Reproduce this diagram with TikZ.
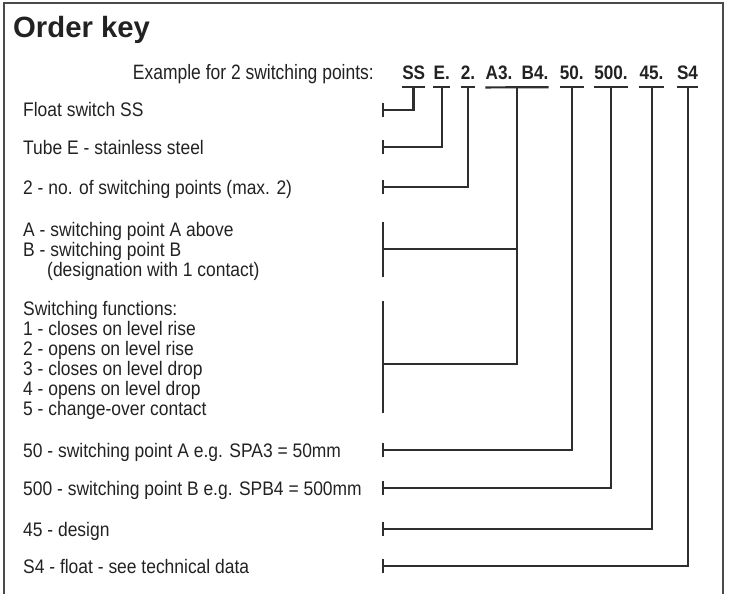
\documentclass[tikz,border=0pt]{standalone}
\usepackage{fontspec}
\setmainfont{Liberation Sans}
\newfontfamily\lblfont[FakeStretch=0.89]{Liberation Sans}
\newfontfamily\exfont[FakeStretch=0.84]{Liberation Sans}
\newfontfamily\codefont[FakeStretch=0.88]{Liberation Sans}
\definecolor{ink}{HTML}{222222}
\definecolor{wire}{HTML}{2E2E2E}
\definecolor{framec}{HTML}{4A4A4A}
\begin{document}
\begin{tikzpicture}[x=1pt,y=-1pt,
  lbl/.style={anchor=base west,inner sep=0pt,text=ink,font=\lblfont\fontsize{19.6}{22}\selectfont},
  code/.style={anchor=base,inner sep=0pt,text=ink,font=\codefont\fontsize{19.5}{22}\selectfont\bfseries},
  wireline/.style={draw=wire,line width=2.1pt,line join=miter},
  barline/.style={draw=wire,line width=2.2pt},
  tickline/.style={draw=wire,line width=2.1pt}]
\useasboundingbox (0,0) rectangle (731,594);
% frame
\draw[framec,line width=1.4pt] (4,594) -- (4,3) -- (723,3) -- (723,594);
% title
\node[anchor=base west,inner sep=0pt,text=ink,font=\fontsize{29.3}{33}\selectfont\bfseries] (title) at (13,37.5) {Order key};
% example line
\node[anchor=base east,inner sep=0pt,text=ink,font=\exfont\fontsize{20.8}{24}\selectfont] (ex) at (374,79.5) {Example for 2 switching points:};
\node[code] (cSS) at (413.7,79.5) {SS};
\node[code] (cE) at (441.8,79.5) {E.};
\node[code] (c2) at (468,79.5) {2.};
\node[code] (cA3) at (499,79.5) {A3.};
\node[code] (cB4) at (535,79.5) {B4.};
\node[code] (c50) at (571.7,79.5) {50.};
\node[code] (c500) at (611,79.5) {500.};
\node[code] (c45) at (651.5,79.5) {45.};
\node[code] (cS4) at (687.5,79.5) {S4};
% bars
\foreach \n in {cSS,cE,c2,c50,c500,c45,cS4}
  \draw[barline] ([yshift=-7.5pt]\n.south west) -- ([yshift=-7.5pt]\n.south east);
\draw[barline] ([yshift=-7.5pt]cA3.south west) -- ([yshift=-7.5pt]cB4.south east);
% bar stem points
\coordinate (bSS) at (413.5,87);
\coordinate (bE) at (442.3,87);
\coordinate (b2) at (467.7,87);
\coordinate (bAB) at (516.7,87);
\coordinate (b50) at (571.7,87);
\coordinate (b500) at (611,87);
\coordinate (b45) at (651.7,87);
\coordinate (bS4) at (687.7,87);
% left ends
\coordinate (tSS) at (383,110);
\coordinate (tE) at (383,147);
\coordinate (t2) at (383,187);
\coordinate (tA) at (383,249);
\coordinate (tF) at (383,364);
\coordinate (t50) at (383,450);
\coordinate (t500) at (383,488);
\coordinate (t45) at (383,529);
\coordinate (tS4) at (383,566);
% labels
\node[lbl] (lSS) at (23,117) {Float switch SS};
\node[lbl] (lE) at (23,154) {Tube E - stainless steel};
\node[lbl] (l2) at (23,194) {2 - no. of switching points (max. 2)};
\node[lbl] (lA) at (23,236) {A - switching point A above};
\node[lbl] (lB) at (23,256) {B - switching point B};
\node[lbl] (lD) at (47,276) {(designation with 1 contact)};
\node[lbl] (lF0) at (23,315) {Switching functions:};
\node[lbl] (lF1) at (23,335) {1 - closes on level rise};
\node[lbl] (lF2) at (23,355) {2 - opens on level rise};
\node[lbl] (lF3) at (23,375) {3 - closes on level drop};
\node[lbl] (lF4) at (23,395) {4 - opens on level drop};
\node[lbl] (lF5) at (23,415) {5 - change-over contact};
\node[lbl] (l50) at (23,457) {50 - switching point A e.g. SPA3 = 50mm};
\node[lbl] (l500) at (23,495) {500 - switching point B e.g. SPB4 = 500mm};
\node[lbl] (l45) at (23,536) {45 - design};
\node[lbl] (lS4) at (23,573) {S4 - float - see technical data};
% connectors
\draw[wireline] (bSS) |- (tSS);
\draw[wireline] (bE) |- (tE);
\draw[wireline] (b2) |- (t2);
\draw[wireline] (bAB) |- (tF);
\draw[wireline] (bAB |- tA) -- (tA);
\draw[wireline] (b50) |- (t50);
\draw[wireline] (b500) |- (t500);
\draw[wireline] (b45) |- (t45);
\draw[wireline] (bS4) |- (tS4);
% ticks
\foreach \t in {tSS,tE,t2,t50,t500,t45,tS4}
  \draw[tickline] ([yshift=7pt]\t) -- ([yshift=-7pt]\t);
% brackets
\draw[tickline] (383,222) -- (383,277);
\draw[tickline] (383,301) -- (383,413);
\end{tikzpicture}
\end{document}
